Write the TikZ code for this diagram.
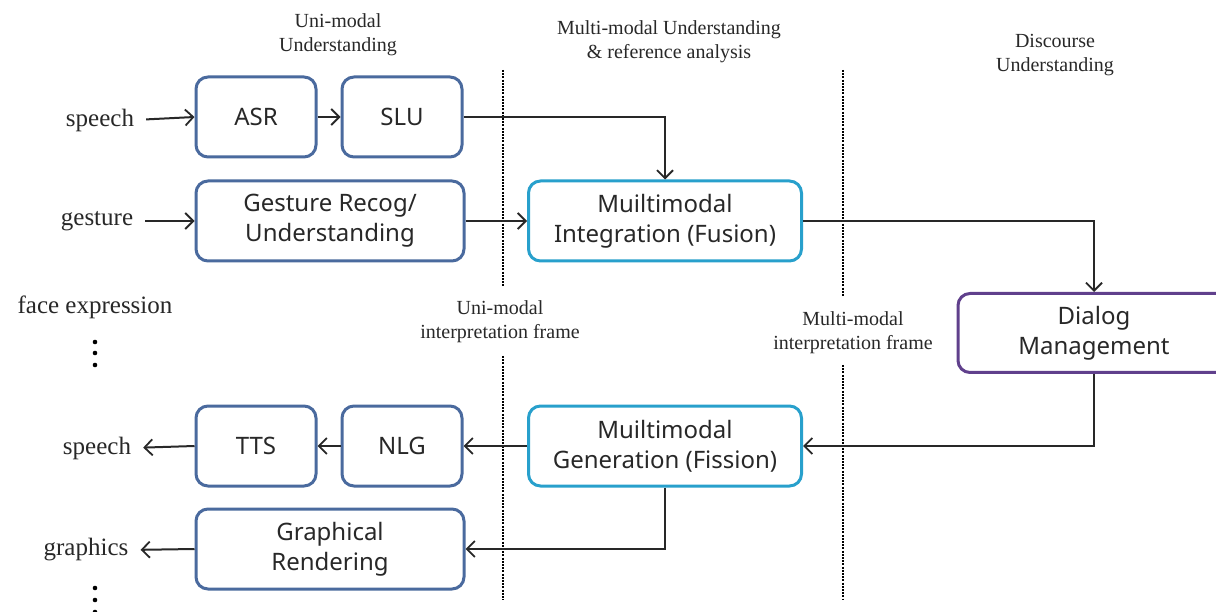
\documentclass[tikz,border=0pt]{standalone}
\usepackage{fontspec}
\usepackage{xcolor}
\usepackage{tikz}
\usetikzlibrary{arrows.meta,positioning,calc}
\setmainfont{Liberation Serif}
\newfontfamily\boxfont{Noto Sans}

\definecolor{boxblue}{RGB}{74,106,158}
\definecolor{boxcyan}{RGB}{40,160,204}
\definecolor{boxpurple}{RGB}{96,64,140}
\definecolor{inkgray}{RGB}{40,40,40}

\begin{document}
\begin{tikzpicture}[x=1pt,y=-1pt,
  modbox/.style={draw=boxblue, line width=3pt, rounded corners=12pt, align=center,
    text=inkgray, font=\boxfont\fontsize{24}{30}\selectfont, inner sep=0pt},
  fusebox/.style={modbox, draw=boxcyan},
  dmbox/.style={modbox, draw=boxpurple},
  io/.style={font=\fontsize{25}{28}\selectfont, text=inkgray, inner sep=0pt},
  phase/.style={font=\fontsize{20}{24}\selectfont, text=inkgray, align=center, inner sep=0pt},
  flow/.style={draw=inkgray, line width=2pt, -{Straight Barb[length=8pt,width=16pt,line width=1.8pt]}},
  border/.style={draw=black, line width=2.6pt, dash pattern=on 2pt off 1.2pt}]
\useasboundingbox[fill=white] (0,0) rectangle (1216,612);

% Input side
\node[io] (speechin) at (100,120) {speech};
\node[io] (gesturein) at (97,221) {gesture};
\node[io] (face) at (95,307) {face expression};
\node[modbox, minimum width=120pt, minimum height=80pt] (asr) at (256,117) {ASR};
\node[modbox, minimum width=120pt, minimum height=80pt] (slu) at (402,117) {SLU};
\node[modbox, minimum width=268pt, minimum height=80pt] (gesture) at (330,221) {Gesture Recog/\\Understanding};
\node[fusebox, minimum width=273pt, minimum height=80pt] (fusion) at (665,221) {Muiltimodal\\Integration (Fusion)};

% Dialog manager
\node[dmbox, minimum width=272pt, minimum height=79pt] (dm) at (1094,333) {Dialog\\Management};

% Output side
\node[fusebox, minimum width=273pt, minimum height=80pt] (fission) at (665,446) {Muiltimodal\\Generation (Fission)};
\node[modbox, minimum width=120pt, minimum height=80pt] (nlg) at (402,446) {NLG};
\node[modbox, minimum width=120pt, minimum height=80pt] (tts) at (256,446) {TTS};
\node[modbox, minimum width=268pt, minimum height=80pt] (render) at (330,549) {Graphical\\Rendering};
\node[io] (speechout) at (97,448) {speech};
\node[io] (graphicsout) at (86,550) {graphics};

% more modalities
\foreach \y in {342,353,365,588,600,612}
  \fill[black] (95,\y) circle (2.3pt);

% Phase labels
\node[phase] (lbluni) at (338,35) {Uni-modal\\Understanding};
\node[phase] (lblmulti) at (669,42) {Multi-modal Understanding\\\& reference analysis};
\node[phase] (lbldisc) at (1055,55) {Discourse\\Understanding};
\node[phase] (lblframe1) at (500,322) {Uni-modal\\interpretation frame};
\node[phase] (lblframe2) at (853,333) {Multi-modal\\interpretation frame};

% Phase borders
\draw[border] (503,70) -- (503,286);
\draw[border] (503,356) -- (503,600);
\draw[border] (843,70) -- (843,297);
\draw[border] (843,365) -- (843,600);

% Connectors
\draw[flow, shorten <=12pt] (speechin.east) -- (asr.west);
\draw[flow] (asr) -- (slu);
\draw[flow] (slu.east) -| (fusion.north);
\draw[flow, shorten <=12pt] (gesturein.east) -- (gesture.west);
\draw[flow] (gesture) -- (fusion);
\draw[flow] (fusion.east) -| (dm.north);
\draw[flow] (dm.south) |- (fission.east);
\draw[flow] (fission) -- (nlg);
\draw[flow] (nlg) -- (tts);
\draw[flow, shorten >=12pt] (tts.west) -- (speechout.east);
\draw[flow] (fission.south) |- (render.east);
\draw[flow, shorten >=12pt] (render.west) -- (graphicsout.east);
\end{tikzpicture}
\end{document}
